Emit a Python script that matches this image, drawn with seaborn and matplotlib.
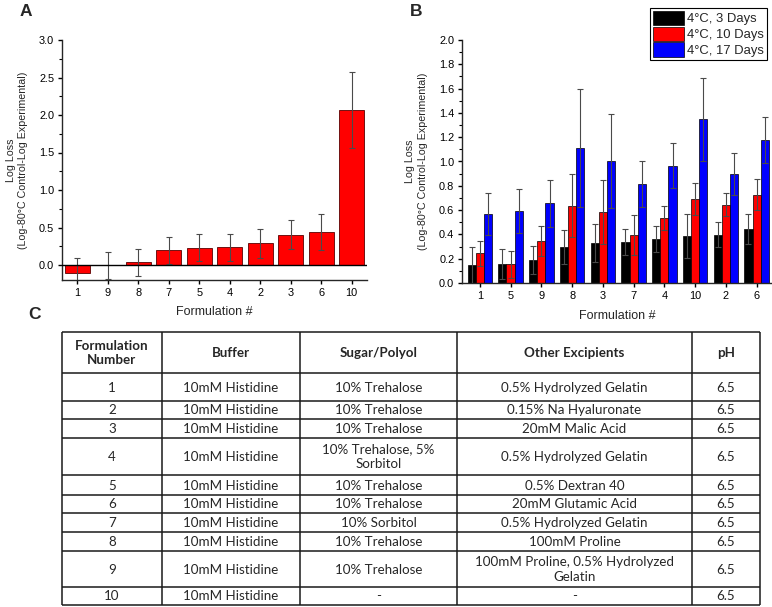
import numpy as np
import pandas as pd
import matplotlib
matplotlib.use("Agg")
import matplotlib.pyplot as plt
from matplotlib.ticker import MultipleLocator
import seaborn as sns

# ---------------- data ----------------
# Panel A
A_order = ["1", "9", "8", "7", "5", "4", "2", "3", "6", "10"]
A_mean = [-0.10, -0.005, 0.04, 0.195, 0.23, 0.235, 0.29, 0.405, 0.44, 2.065]
A_err = [0.20, 0.175, 0.18, 0.18, 0.18, 0.185, 0.19, 0.19, 0.24, 0.51]

# Panel B
B_order = ["1", "5", "9", "8", "3", "7", "4", "10", "2", "6"]
conditions = ["4°C, 3 Days", "4°C, 10 Days", "4°C, 17 Days"]
B_3d = [0.145, 0.154, 0.187, 0.296, 0.326, 0.337, 0.365, 0.387, 0.398, 0.444]
B_3d_err = [0.155, 0.125, 0.115, 0.137, 0.157, 0.105, 0.107, 0.181, 0.104, 0.124]
B_10d = [0.244, 0.154, 0.346, 0.636, 0.584, 0.395, 0.535, 0.694, 0.645, 0.727]
B_10d_err = [0.102, 0.112, 0.126, 0.261, 0.266, 0.165, 0.099, 0.132, 0.093, 0.126]
B_17d = [0.568, 0.595, 0.656, 1.108, 1.004, 0.815, 0.966, 1.347, 0.897, 1.177]
B_17d_err = [0.170, 0.181, 0.192, 0.486, 0.384, 0.192, 0.184, 0.340, 0.170, 0.187]

# Panel C (table)
tbl_header = ["Formulation\nNumber", "Buffer", "Sugar/Polyol", "Other Excipients", "pH"]
tbl_number = ["1", "2", "3", "4", "5", "6", "7", "8", "9", "10"]
tbl_buffer = ["10mM Histidine"] * 10
tbl_sugar = ["10% Trehalose", "10% Trehalose", "10% Trehalose", "10% Trehalose, 5%\nSorbitol",
             "10% Trehalose", "10% Trehalose", "10% Sorbitol", "10% Trehalose", "10% Trehalose", "-"]
tbl_other = ["0.5% Hydrolyzed Gelatin", "0.15% Na Hyaluronate", "20mM Malic Acid",
             "0.5% Hydrolyzed Gelatin", "0.5% Dextran 40", "20mM Glutamic Acid",
             "0.5% Hydrolyzed Gelatin", "100mM Proline", "100mM Proline, 0.5% Hydrolyzed\nGelatin", "-"]
tbl_ph = ["6.5"] * 10

# ---------------- style ----------------
sns.set_style("ticks")
plt.rcParams["font.family"] = ["Liberation Sans", "DejaVu Sans"]
plt.rcParams["axes.linewidth"] = 1.0
plt.rcParams["xtick.major.size"] = 3
plt.rcParams["ytick.major.size"] = 3
plt.rcParams["ytick.minor.size"] = 2
plt.rcParams["xtick.major.width"] = 1.0
plt.rcParams["ytick.major.width"] = 1.0
plt.rcParams["ytick.minor.width"] = 0.8
plt.rcParams["xtick.direction"] = "out"
plt.rcParams["ytick.direction"] = "out"
plt.rcParams["xtick.color"] = "black"
plt.rcParams["ytick.color"] = "black"

W, H = 772, 607
fig = plt.figure(figsize=(W / 100, H / 100), dpi=100)


def px_axes(left, top, right, bottom):
    return fig.add_axes([left / W, 1 - bottom / H, (right - left) / W, (bottom - top) / H])


TICK_FS = 7.9
XLAB_FS = 9.0
YLAB_FS = 7.7
ERR_COLOR = "#4a4a4a"

# ---------------- Panel A ----------------
axA = px_axes(62, 40, 367, 280)
dfA = pd.DataFrame({"Formulation": A_order, "LogLoss": A_mean})
sns.barplot(data=dfA, x="Formulation", y="LogLoss", order=A_order, color="#ff0000",
            saturation=1, edgecolor="#5a0000", linewidth=0.6, width=0.82,
            errorbar=None, ax=axA)
xsA = [p.get_x() + p.get_width() / 2 for p in axA.containers[0]]
axA.errorbar(xsA, A_mean, yerr=A_err, fmt="none", ecolor=ERR_COLOR,
             elinewidth=0.8, capsize=2, capthick=0.8, zorder=3)
axA.axhline(0, color="black", lw=1.0, zorder=4)
axA.set_xlim(-0.5, 9.5)
axA.set_ylim(-0.2, 3.0)
axA.yaxis.set_major_locator(MultipleLocator(0.5))
axA.yaxis.set_minor_locator(MultipleLocator(0.25))
axA.yaxis.set_major_formatter(matplotlib.ticker.FormatStrFormatter("%.1f"))
sns.despine(ax=axA)
axA.tick_params(axis="both", labelsize=TICK_FS, pad=2.5)
axA.set_xlabel("Formulation #", fontsize=XLAB_FS, labelpad=6)
axA.set_ylabel("Log Loss\n(Log-80°C Control-Log Experimental)", fontsize=YLAB_FS, linespacing=1.35)
axA.yaxis.set_label_coords(-0.11, 0.5)

# ---------------- Panel B ----------------
axB = px_axes(462, 40, 772, 283)
dfB = pd.DataFrame({
    "Formulation": B_order * 3,
    "Condition": [conditions[0]] * 10 + [conditions[1]] * 10 + [conditions[2]] * 10,
    "LogLoss": B_3d + B_10d + B_17d,
})
sns.barplot(data=dfB, x="Formulation", y="LogLoss", hue="Condition", order=B_order,
            hue_order=conditions, palette=["#000000", "#ff0000", "#0000ff"], saturation=1,
            edgecolor="black", linewidth=0.5, width=0.8, gap=0, errorbar=None,
            legend=False, ax=axB)
for cont, vals, errs in zip(axB.containers, [B_3d, B_10d, B_17d], [B_3d_err, B_10d_err, B_17d_err]):
    xs = [p.get_x() + p.get_width() / 2 for p in cont]
    axB.errorbar(xs, vals, yerr=errs, fmt="none", ecolor=ERR_COLOR,
                 elinewidth=0.8, capsize=2, capthick=0.8, zorder=3)
axB.set_xlim(-0.58, 9.5)
axB.set_ylim(0, 2.0)
axB.yaxis.set_major_locator(MultipleLocator(0.2))
axB.yaxis.set_minor_locator(MultipleLocator(0.1))
axB.yaxis.set_major_formatter(matplotlib.ticker.FormatStrFormatter("%.1f"))
sns.despine(ax=axB)
axB.tick_params(axis="both", labelsize=TICK_FS, pad=2.5)
axB.set_xlabel("Formulation #", fontsize=XLAB_FS, labelpad=7)
axB.set_ylabel("Log Loss\n(Log-80°C Control-Log Experimental)", fontsize=YLAB_FS, linespacing=1.35)
axB.yaxis.set_label_coords(-0.11, 0.5)
leg = axB.legend(handles=axB.containers, labels=conditions, loc="upper right",
                 bbox_to_anchor=(767 / W, 1 - 8 / H), bbox_transform=fig.transFigure,
                 borderaxespad=0, fontsize=9.4, frameon=True, fancybox=False,
                 edgecolor="black", framealpha=1, handlelength=2.4, handleheight=1.3,
                 handletextpad=0.25, labelspacing=0.1, borderpad=0.22)
leg.get_frame().set_linewidth(0.8)

# ---------------- Panel labels ----------------
fig.text(20 / W, 1 - 4 / H, "A", fontsize=12.5, fontweight="bold", ha="left", va="top")
fig.text(410 / W, 1 - 4 / H, "B", fontsize=12.5, fontweight="bold", ha="left", va="top")
fig.text(28 / W, 1 - 307 / H, "C", fontsize=12.5, fontweight="bold", ha="left", va="top")

# ---------------- Panel C table ----------------
axT = fig.add_axes([0, 0, 1, 1])
axT.set_xlim(0, W)
axT.set_ylim(H, 0)
axT.set_axis_off()
col_x = [62, 162, 300, 457, 692, 760]
row_y = [332, 373, 401, 419, 438, 475, 495, 513, 532, 551, 587, 605]
for x in col_x:
    axT.plot([x, x], [row_y[0], row_y[-1]], color="#1a1a1a", lw=1.1, solid_capstyle="butt")
for y in row_y:
    axT.plot([col_x[0], col_x[-1]], [y, y], color="#1a1a1a", lw=1.1, solid_capstyle="butt")

TBL_FS = 9.6
TBL_FONT = ["Lato", "DejaVu Sans"]
for j, h in enumerate(tbl_header):
    axT.text((col_x[j] + col_x[j + 1]) / 2, (row_y[0] + row_y[1]) / 2 + 0.5, h,
             ha="center", va="center", fontsize=TBL_FS, family=TBL_FONT,
             fontweight="bold", linespacing=1.3)
columns = [tbl_number, tbl_buffer, tbl_sugar, tbl_other, tbl_ph]
for j, col in enumerate(columns):
    for i, s in enumerate(col):
        axT.text((col_x[j] + col_x[j + 1]) / 2, (row_y[i + 1] + row_y[i + 2]) / 2 + 0.5, s,
                 ha="center", va="center", fontsize=TBL_FS, family=TBL_FONT, linespacing=1.3)

fig.savefig("out.png", dpi=100)
